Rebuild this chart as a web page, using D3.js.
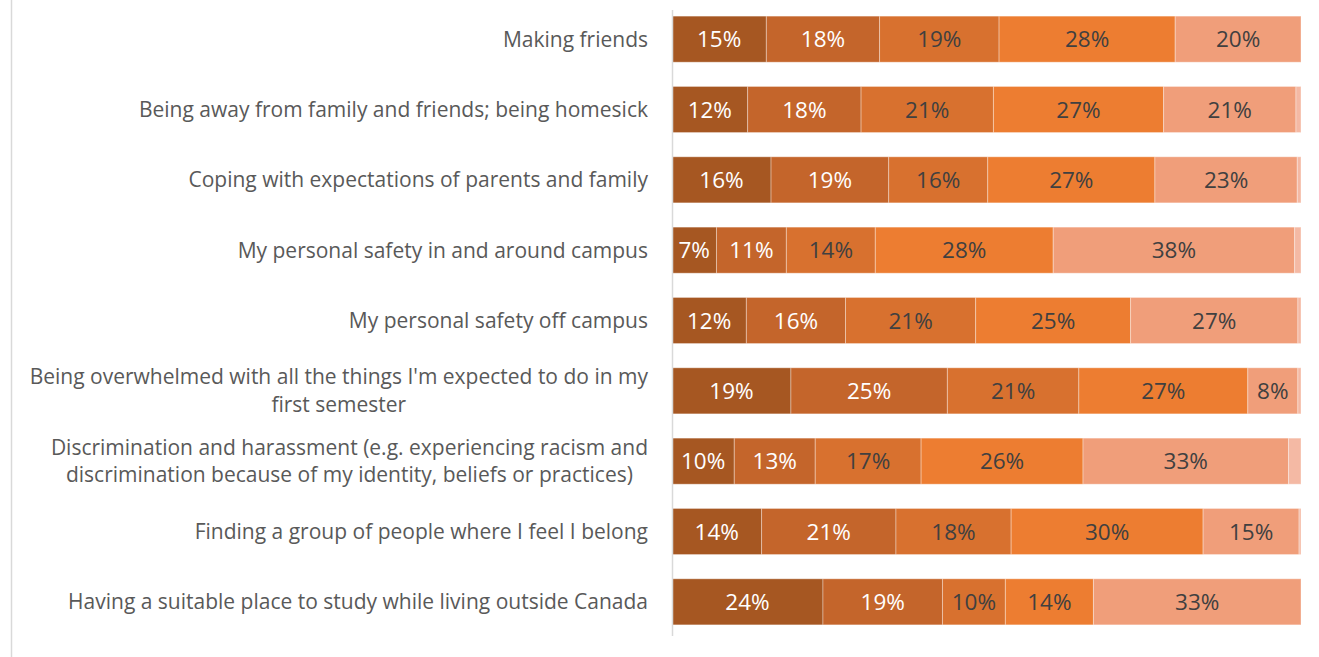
<!DOCTYPE html>
<html>
<head>
<meta charset="utf-8">
<script src="https://cdn.jsdelivr.net/npm/d3@7"></script>
<style>
  body { margin: 0; background: #fff; }
  .cat { font-family: "Open Sans", sans-serif; font-size: 21px; fill: #595959; }
  .val { font-family: "Open Sans", sans-serif; font-size: 22.5px; }
</style>
</head>
<body>
<svg id="chart"></svg>
<script>
// categories, top to bottom
var categories = [
  "Making friends",
  "Being away from family and friends; being homesick",
  "Coping with expectations of parents and family",
  "My personal safety in and around campus",
  "My personal safety off campus",
  "Being overwhelmed with all the things I'm expected to do in my first semester",
  "Discrimination and harassment (e.g. experiencing racism and discrimination because of my identity, beliefs or practices)",
  "Finding a group of people where I feel I belong",
  "Having a suitable place to study while living outside Canada"
];

// six answer levels, percent of respondents
var level1 = [15, 12, 16, 7, 12, 19, 10, 14, 24];
var level2 = [18, 18, 19, 11, 16, 25, 13, 21, 19];
var level3 = [19, 21, 16, 14, 21, 21, 17, 18, 10];
var level4 = [28, 27, 27, 28, 25, 27, 26, 30, 14];
var level5 = [20, 21, 23, 38, 27, 8, 33, 15, 33];
var level6 = [0, 0.8, 0.6, 1, 0.5, 0.5, 2, 0.3, 0];

var levels = [level1, level2, level3, level4, level5, level6];
var colors = ["#A65722", "#C4652B", "#D8712F", "#ED7D31", "#F09E7A", "#F4B9A4"];
var textColors = ["#ffffff", "#ffffff", "#404040", "#404040", "#404040", "#404040"];

var w = 1319, h = 657;
var svg = d3.select("#chart").attr("width", w).attr("height", h);

var yScale = d3.scaleBand()
  .domain(categories)
  .range([4, 637])
  .paddingInner(0.345)
  .paddingOuter(0.1725);

// each row sums to about 100, scale per row so the bar fills the width
var x0 = 672, x1 = 1301;

// frame line at the left
svg.append("line")
  .attr("x1", 11.5).attr("x2", 11.5)
  .attr("y1", 0).attr("y2", h)
  .attr("stroke", "#d9d9d9").attr("stroke-width", 1.5);

categories.forEach(function(cat, i) {
  var total = d3.sum(levels, function(l) { return l[i]; });
  var xScale = d3.scaleLinear().domain([0, total]).range([x0, x1]);
  var acc = 0;
  levels.forEach(function(l, j) {
    var v = l[i];
    if (v <= 0) { return; }
    var xa = xScale(acc), xb = xScale(acc + v);
    svg.append("rect")
      .attr("x", xa)
      .attr("y", yScale(cat))
      .attr("width", xb - xa)
      .attr("height", yScale.bandwidth())
      .attr("fill", colors[j])
      .attr("stroke", "rgba(255,255,255,0.35)")
      .attr("stroke-width", 1);
    if (v >= 3) {
      svg.append("text")
        .attr("class", "val")
        .attr("x", (xa + xb) / 2)
        .attr("y", yScale(cat) + yScale.bandwidth() / 2)
        .attr("dy", "0.36em")
        .attr("text-anchor", "middle")
        .attr("fill", textColors[j])
        .text(Math.round(v) + "%");
    }
    acc += v;
  });
});

// axis line
svg.append("line")
  .attr("x1", x0 + 0.5).attr("x2", x0 + 0.5)
  .attr("y1", 10).attr("y2", 636)
  .attr("stroke", "#d9d9d9").attr("stroke-width", 1.5);

// category labels, wrapped; lines centred inside a block that is right aligned
var maxW = 630, labelRight = 648;
categories.forEach(function(cat) {
  var t = svg.append("text")
    .attr("class", "cat")
    .attr("text-anchor", "middle");
  var words = cat.split(" ");
  var lines = [], line = [];
  var probe = t.append("tspan");
  words.forEach(function(wd) {
    line.push(wd);
    probe.text(line.join(" "));
    if (probe.node().getComputedTextLength() > maxW && line.length > 1) {
      line.pop();
      lines.push(line.join(" "));
      line = [wd];
    }
  });
  lines.push(line.join(" "));
  var widest = d3.max(lines, function(ln) {
    probe.text(ln);
    return probe.node().getComputedTextLength();
  });
  probe.remove();
  var cx = labelRight - widest / 2;
  var lh = 27.5;
  var cy = yScale(cat) + yScale.bandwidth() / 2;
  var start = cy - (lines.length - 1) * lh / 2;
  lines.forEach(function(ln, k) {
    t.append("tspan")
      .attr("x", cx)
      .attr("y", start + k * lh)
      .attr("dy", "0.35em")
      .text(ln);
  });
});
</script>
</body>
</html>
